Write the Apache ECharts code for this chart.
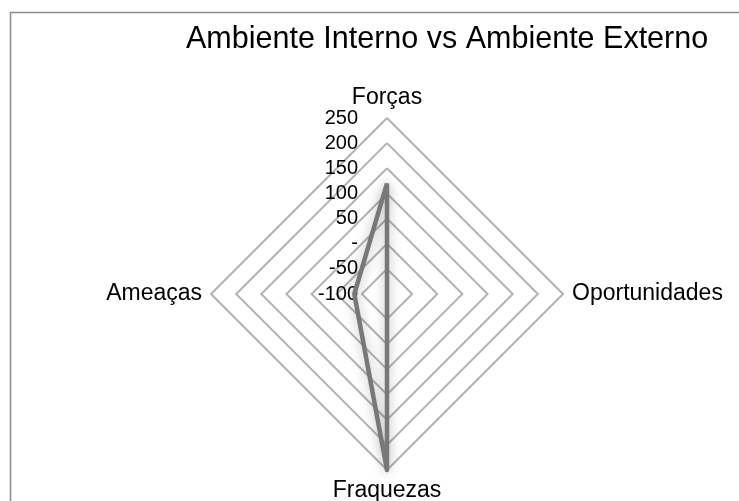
<!DOCTYPE html>
<html>
<head>
<meta charset="utf-8">
<script src="https://cdn.jsdelivr.net/npm/echarts@6/dist/echarts.min.js"></script>
<style>html,body{margin:0;padding:0;background:#fff}#c{width:739px;height:501px}</style>
</head>
<body>
<div id="c"></div>
<script>
const titleText = 'Ambiente Interno vs Ambiente Externo';
// indicator order as laid out by ECharts (counterclockwise from top)
const categories = ['Forças', 'Ameaças', 'Fraquezas', 'Oportunidades'];
const values = [120, -35, 250, -100];
const axisMin = -100, axisMax = 250, axisStep = 50;
const tickLabels = {'-100':'-100','-50':'-50','0':'-','50':'50','100':'100','150':'150','200':'200','250':'250'};

const cx = 387, cy = 294, R = 176;
const font = 'Liberation Sans, Arial, sans-serif';
const chart = echarts.init(document.getElementById('c'));
chart.setOption({
  animation: false,
  backgroundColor: '#fff',
  title: {
    text: titleText, left: 181, top: 19,
    textStyle: {fontFamily: font, fontSize: 30.5, fontWeight: 'normal', color: '#000'}
  },
  graphic: [{
    type: 'rect', silent: true,
    shape: {x: 10.5, y: 12.5, width: 900, height: 700},
    style: {fill: 'none', stroke: '#8c8c8c', lineWidth: 1.5}
  }],
  radar: {
    center: [cx, cy], radius: R, shape: 'polygon', splitNumber: (axisMax - axisMin) / axisStep,
    indicator: categories.map(n => ({name: n, min: axisMin, max: axisMax})),
    axisName: {color: '#000', fontFamily: font, fontSize: 23},
    nameGap: 9,
    axisLine: {show: false},
    splitLine: {lineStyle: {color: '#b3b3b3', width: 2}},
    splitArea: {show: false},
    axisLabel: {show: false},
    axisTick: {show: false}
  },
  grid: {left: 360, width: 1, top: cy - R, height: R},
  xAxis: {type: 'value', show: false},
  yAxis: {
    type: 'value', min: axisMin, max: axisMax, interval: axisStep,
    axisLine: {show: false}, axisTick: {show: false}, splitLine: {show: false},
    axisLabel: {margin: 2, fontFamily: font, fontSize: 20, color: '#000',
      formatter: v => tickLabels[String(v)] }
  },
  series: [{
    type: 'radar',
    symbol: 'none',
    lineStyle: {color: '#787878', width: 4.5, shadowBlur: 12, shadowColor: 'rgba(0,0,0,0.3)'},
    data: [{value: values}]
  }]
});
</script>
</body>
</html>
